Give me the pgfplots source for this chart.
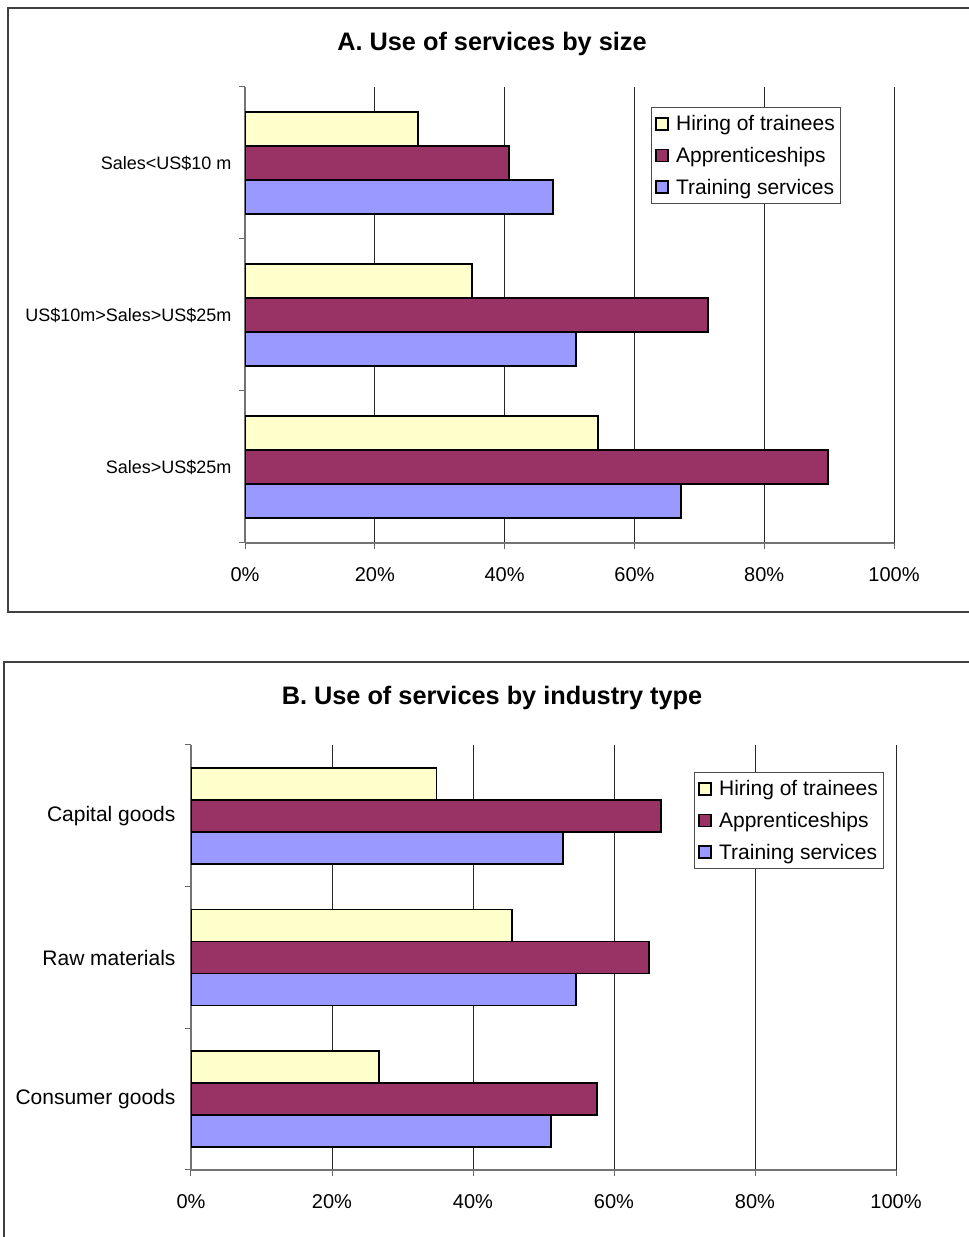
\documentclass[border=0pt]{standalone}
\usepackage{fontspec}
\setmainfont{Liberation Sans}
\usepackage{pgfplots}
\pgfplotsset{compat=1.18}
\definecolor{hire}{HTML}{FFFFCC}
\definecolor{appr}{HTML}{993366}
\definecolor{train}{HTML}{9999FF}
\pgfplotsset{
  svcbar/.style={
    xbar, scale only axis,
    xmin=0, xmax=100,
    ymin=-0.5, ymax=2.5,
    xtick={0,20,40,60,80,100},
    xticklabels={0\%,20\%,40\%,60\%,80\%,100\%},
    xticklabel style={font=\fontsize{20}{24}\selectfont, yshift=-15pt},
    ytick={-0.5,0.5,1.5,2.5},
    y tick label as interval,
    xmajorgrids,
    major grid style={black!85, line width=0.9pt},
    axis x line*=bottom, axis y line*=left,
    axis line style={-, black!55, line width=1.2pt},
    tick align=outside,
    major tick length=6pt,
    tick style={black!60, line width=1pt},
    legend cell align=left,
    legend style={draw=black!70, line width=0.8pt, inner xsep=4pt, inner ysep=6pt,
      font=\fontsize{21}{25}\selectfont, row sep=11pt, anchor=north west},
    legend image code/.code={\draw[#1, draw=black, line width=1.8pt] (0pt,-6pt) rectangle (12pt,6pt);
      \path (17pt,0pt);},
    every axis plot/.append style={draw=black, line width=1.6pt},
  }
}
\begin{document}
\begin{tikzpicture}[x=1pt,y=1pt]
\useasboundingbox (0,0) rectangle (969,1237);
\clip (0,0) rectangle (969,1237);
\fill[white] (0,0) rectangle (969,1237);
% frames
\draw[black!75, line width=1.5pt] (8,625) rectangle (990,1229);
\draw[black!75, line width=1.5pt] (4,-20) rectangle (990,575);
% titles
\node[font=\bfseries\fontsize{25.3}{29}\selectfont] at (492,1193) {A. Use of services by size};
\node[font=\bfseries\fontsize{25.3}{29}\selectfont] at (492,539) {B. Use of services by industry type};

\begin{axis}[svcbar,
  at={(245pt,694pt)}, anchor=south west, width=649pt, height=456pt,
  bar width=34pt,
  yticklabels={Sales>US\$25m, US\$10m>Sales>US\$25m, Sales<US\$10 m},
  yticklabel style={font=\fontsize{18}{22}\selectfont, xshift=-4pt},
  legend style={at={(0.6256,0.956)}},
]
\addplot[fill=hire, bar shift=34pt] coordinates {(54.4,0) (35.0,1) (26.7,2)};
\addplot[fill=appr, bar shift=0pt] coordinates {(89.8,0) (71.3,1) (40.7,2)};
\addplot[fill=train, bar shift=-34pt] coordinates {(67.2,0) (51.0,1) (47.5,2)};
\legend{Hiring of trainees, Apprenticeships, Training services}
\end{axis}

\begin{axis}[svcbar,
  at={(191pt,67pt)}, anchor=south west, width=705pt, height=425pt,
  bar width=32pt,
  yticklabels={Consumer goods, Raw materials, Capital goods},
  yticklabel style={font=\fontsize{21}{25}\selectfont, xshift=-6pt},
  legend style={at={(0.7135,0.9365)}},
]
\addplot[fill=hire, bar shift=32pt] coordinates {(26.7,0) (45.5,1) (34.8,2)};
\addplot[fill=appr, bar shift=0pt] coordinates {(57.6,0) (65.0,1) (66.7,2)};
\addplot[fill=train, bar shift=-32pt] coordinates {(51.1,0) (54.6,1) (52.8,2)};
\legend{Hiring of trainees, Apprenticeships, Training services}
\end{axis}
\end{tikzpicture}
\end{document}
